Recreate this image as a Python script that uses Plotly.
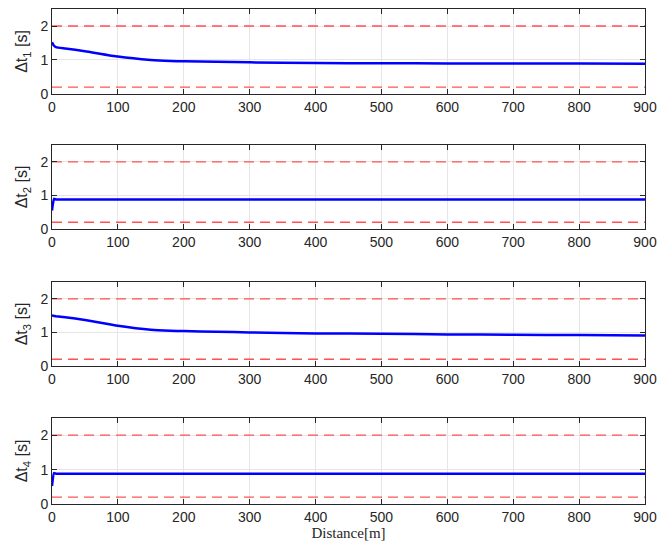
import plotly.graph_objects as go
from plotly.subplots import make_subplots

distance = [0, 3, 6, 20, 50, 100, 150, 180, 200, 250, 300, 400, 500, 600, 700, 800, 900]
dt1 = [1.52, 1.42, 1.38, 1.34, 1.26, 1.10, 1.00, 0.97, 0.96, 0.95, 0.93, 0.91, 0.905, 0.90, 0.90, 0.895, 0.89]
dt2 = [0.55, 0.90, 0.88, 0.88, 0.88, 0.88, 0.88, 0.88, 0.88, 0.88, 0.88, 0.88, 0.88, 0.88, 0.88, 0.88, 0.88]
dt3 = [1.50, 1.49, 1.48, 1.45, 1.37, 1.20, 1.08, 1.05, 1.04, 1.02, 1.00, 0.97, 0.96, 0.94, 0.93, 0.92, 0.91]
dt4 = [0.52, 0.90, 0.88, 0.88, 0.88, 0.88, 0.88, 0.88, 0.88, 0.88, 0.88, 0.88, 0.88, 0.88, 0.88, 0.88, 0.88]
upper_limit = 2.0
lower_limit = 0.2
x_ticks = [0, 100, 200, 300, 400, 500, 600, 700, 800, 900]
y_ticks = [0, 1, 2]
y_labels = ["Δt<sub>1</sub> [s]", "Δt<sub>2</sub> [s]", "Δt<sub>3</sub> [s]", "Δt<sub>4</sub> [s]"]
series = [dt1, dt2, dt3, dt4]

fig = make_subplots(rows=4, cols=1)
domains = [[0.8283, 1.0], [0.5556, 0.7253], [0.2788, 0.4485], [0.0, 0.1737]]

for i, s in enumerate(series):
    r = i + 1
    for lim in (upper_limit, lower_limit):
        fig.add_trace(go.Scatter(x=[x_ticks[0], x_ticks[-1]], y=[lim, lim], mode="lines",
                                 line=dict(color="rgba(255,40,40,0.8)", width=1.3, dash="10px,6px"),
                                 showlegend=False, hoverinfo="skip"), row=r, col=1)
    fig.add_trace(go.Scatter(x=distance, y=s, mode="lines",
                             line=dict(color="#0000ff", width=2.5, shape="spline", smoothing=0.4),
                             showlegend=False), row=r, col=1)
    axis_common = dict(showline=True, linecolor="#262626", linewidth=1, mirror="ticks",
                       ticks="inside", ticklen=5, tickcolor="#262626", showgrid=True,
                       gridcolor="#e6e6e6", zeroline=False,
                       tickfont=dict(family="Liberation Sans, Arial", size=14, color="#262626"))
    fig.update_xaxes(range=[0, 900], tickvals=x_ticks, row=r, col=1, **axis_common)
    fig.update_yaxes(range=[0, 2.5], tickvals=y_ticks, domain=domains[i], row=r, col=1,
                     title=dict(text=y_labels[i], standoff=8,
                                font=dict(family="Liberation Sans, Arial", size=16, color="#262626")),
                     **axis_common)

fig.update_xaxes(title=dict(text="Distance[m]", standoff=2,
                            font=dict(family="Liberation Serif, Times New Roman", size=15, color="#262626")),
                 row=4, col=1)

fig.update_layout(width=663, height=535, margin=dict(l=44, r=26, t=1, b=39, autoexpand=False),
                  plot_bgcolor="white", paper_bgcolor="white")

fig.write_html("out.html")
